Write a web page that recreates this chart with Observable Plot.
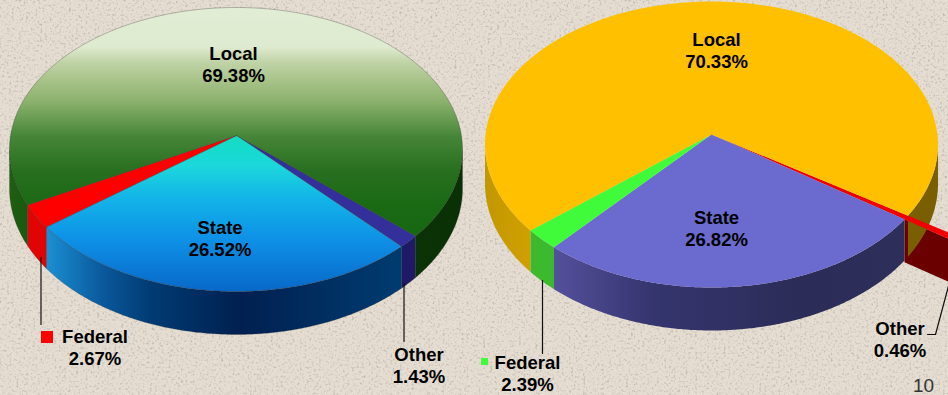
<!DOCTYPE html>
<html>
<head>
<meta charset="utf-8">
<style>
  html, body { margin: 0; padding: 0; background: #e3dbcf; overflow: hidden; }
</style>
<script src="https://cdn.jsdelivr.net/npm/d3@7"></script>
<script src="https://cdn.jsdelivr.net/npm/@observablehq/plot@0.6"></script>
</head>
<body>
<div id="chart"></div>
<script>
// Slices run clockwise from the start angle of each pie.
const categories = ["Other", "State", "Federal", "Local"];
const leftShares = [1.43, 26.52, 2.67, 69.38];
const rightShares = [0.46, 26.82, 2.39, 70.33];
const pageNumber = "10";

const width = 948, height = 395;

// Tilted-disc geometry: an ellipse, the projected centre of the disc (ax, ay),
// and the thickness of the rim.
const leftPie = {
  id: "l", shares: leftShares, start: 41.85, cx: 235.5, cy: 149, rx: 226.5, ry: 142,
  ax: 236, ay: 135, depth: 43, stroke: "#2a2a2a", reach: {}
};
const rightPie = {
  id: "r", shares: rightShares, start: 33.2, cx: 711, cy: 144, rx: 226.5, ry: 143,
  ax: 711, ay: 134, depth: 43, stroke: "none", reach: {Other: 1.35}
};

const topFill = {
  l: {Local: "url(#lLocalTop)", State: "url(#lStateTop)", Federal: "#ff0000", Other: "#33309c"},
  r: {Local: "#ffc000", State: "#6b6bcf", Federal: "#40fb3a", Other: "#f00000"}
};
const wallFill = {
  l: {Local: "url(#lLocalWall)", State: "url(#lStateWall)", Federal: "#e00404", Other: "#1f1a66"},
  r: {Local: "url(#rLocalWall)", State: "url(#rStateWall)", Federal: "#3cb92f", Other: "#6a0000"}
};

// Where the ray at a given angle leaves the ellipse, measured from the disc centre.
function rimPoint(p, deg, reach = 1) {
  const t = deg * Math.PI / 180, dx = Math.cos(t), dy = Math.sin(t);
  const a = (p.ax - p.cx) / p.rx, b = (p.ay - p.cy) / p.ry;
  const h = a * dx + b * dy;
  const s = -h + Math.sqrt(h * h - (a * a + b * b - 1));
  return {
    x: p.ax + s * reach * dx * p.rx,
    y: p.ay + s * reach * dy * p.ry,
    lift: Math.max(0, b + s * dy)
  };
}

const lower = (q, p) => ({x: q.x, y: q.y + p.depth * (0.91 + 0.09 * Math.min(1, q.lift))});

function buildPie(p) {
  let angle = p.start;
  const tops = [], walls = [];
  categories.forEach((name, i) => {
    const span = p.shares[i] * 3.6;
    const reach = p.reach[name] ?? 1;
    const arc = d3.range(0, Math.ceil(span / 0.5) + 1)
      .map(k => rimPoint(p, Math.min(angle + k * 0.5, angle + span), reach));
    tops.push({name, points: [{x: p.ax, y: p.ay}, ...arc, {x: p.ax, y: p.ay}]});

    if (reach > 1) {
      // A slice pushed past the rim shows its cut face instead of a curved wall.
      const inner = rimPoint(p, angle + span), outer = rimPoint(p, angle + span, reach);
      const drop = {...inner, lift: 1}, dropOut = {...outer, lift: 1};
      walls.push({name, points: [inner, outer, lower(dropOut, p), lower(drop, p), inner]});
    } else {
      let run = [];
      const flush = () => {
        if (run.length > 1) walls.push({name, points: [...run, ...run.slice().reverse().map(q => lower(q, p)), run[0]]});
        run = [];
      };
      arc.forEach(q => { if (q.y >= p.cy) run.push(q); else flush(); });
      flush();
    }
    angle += span;
  });
  return {tops, walls};
}

// One text row per printed slice label.
const labelSpots = [
  {pie: leftPie, name: "Local", x: 233, y: 63},
  {pie: leftPie, name: "State", x: 219.5, y: 237.5},
  {pie: leftPie, name: "Federal", x: 94.5, y: 346},
  {pie: leftPie, name: "Other", x: 418.5, y: 364},
  {pie: rightPie, name: "Local", x: 716, y: 49},
  {pie: rightPie, name: "State", x: 716, y: 227.5},
  {pie: rightPie, name: "Federal", x: 527, y: 372.5},
  {pie: rightPie, name: "Other", x: 899.5, y: 338.5}
];
const labels = labelSpots.map(d => ({
  x: d.x, y: d.y,
  text: `${d.name}\n${d.pie.shares[categories.indexOf(d.name)].toFixed(2)}%`
}));

const leaders = [
  [{x: 40.5, y: 257}, {x: 40.5, y: 324}],
  [{x: 403.5, y: 283}, {x: 403.5, y: 341}],
  [{x: 542, y: 280}, {x: 542, y: 353}],
  [{x: 950, y: 278}, {x: 935, y: 334}, {x: 927, y: 334}]
];
const swatches = [
  {x1: 41, x2: 53, y1: 331, y2: 343, fill: "#ff0000"},
  {x1: 481, x2: 488, y1: 358, y2: 365, fill: "#40fb3a"}
];

// Paint servers and the paper texture behind the chart.
function paper() {
  const g = d3.create("svg:g");
  const defs = g.append("defs");
  const gradient = (id, vertical, from, to, stops) => {
    const lg = defs.append("linearGradient").attr("id", id).attr("gradientUnits", "userSpaceOnUse")
      .attr("x1", vertical ? 0 : from).attr("x2", vertical ? 0 : to)
      .attr("y1", vertical ? from : 0).attr("y2", vertical ? to : 0);
    stops.forEach(([at, color]) => lg.append("stop").attr("offset", (at - from) / (to - from)).attr("stop-color", color));
  };
  gradient("lLocalTop", true, 7, 240, [[7, "#e1edd4"], [46, "#dfebd0"], [62, "#c0d3a6"], [82, "#a5c186"], [102, "#8ab06c"], [120, "#659a50"], [136, "#468539"], [170, "#286f1f"], [205, "#1a6a14"], [240, "#176613"]]);
  gradient("lStateTop", true, 135, 291, [[135, "#12dcc0"], [165, "#1cd8dc"], [200, "#12b2e8"], [240, "#0e90e6"], [291, "#0868c8"]]);
  gradient("lStateWall", false, 46, 402, [[46, "#1a90d2"], [100, "#0b5a9e"], [150, "#013b73"], [240, "#002050"], [300, "#012a5c"], [402, "#003c70"]]);
  gradient("lLocalWall", false, 9, 462, [[9, "#1f5f12"], [35, "#17560e"], [415, "#0b3306"], [462, "#0a3005"]]);
  gradient("rLocalWall", false, 485, 938, [[485, "#c29800"], [530, "#d0a000"], [900, "#7a5e02"], [938, "#7a5e02"]]);
  gradient("rStateWall", false, 553, 904, [[553, "#55509c"], [650, "#35356f"], [800, "#2c2c58"], [904, "#2e2e5a"]]);

  const speck = defs.append("filter").attr("id", "speck")
    .attr("x", 0).attr("y", 0).attr("width", "100%").attr("height", "100%");
  speck.append("feTurbulence").attr("type", "fractalNoise").attr("baseFrequency", 0.42).attr("numOctaves", 2).attr("seed", 7);
  speck.append("feColorMatrix").attr("values", "0 0 0 0 0.45  0 0 0 0 0.40  0 0 0 0 0.34  2 2 0 0 -2.02");
  speck.append("feGaussianBlur").attr("stdDeviation", 0.5);

  g.append("rect").attr("width", width).attr("height", height).attr("fill", "#e5ddd2");
  g.append("rect").attr("width", width).attr("height", height).attr("filter", "url(#speck)").attr("opacity", 0.7);
  return g.node();
}

const sliceMarks = [leftPie, rightPie].flatMap(p => {
  const {tops, walls} = buildPie(p);
  return [
    ...walls.map(w => Plot.line(w.points, {
      x: "x", y: "y", curve: "linear", clip: true,
      fill: wallFill[p.id][w.name], stroke: p.stroke, strokeWidth: 0.4, strokeOpacity: 0.6
    })),
    ...tops.map(t => Plot.line(t.points, {
      x: "x", y: "y", curve: "linear", clip: true,
      fill: topFill[p.id][t.name], stroke: p.stroke, strokeWidth: 0.5, strokeOpacity: 0.6
    }))
  ];
});

const chart = Plot.plot({
  width, height,
  margin: 0,
  style: {background: "transparent", fontFamily: "'Liberation Sans', Arial, sans-serif"},
  x: {domain: [0, width], range: [0, width], axis: null},
  y: {domain: [0, height], range: [0, height], axis: null},
  marks: [
    paper,
    ...sliceMarks,
    ...leaders.map(l => Plot.line(l, {x: "x", y: "y", curve: "linear", clip: true, stroke: "#111", strokeWidth: 1.2})),
    Plot.rect(swatches, {x1: "x1", x2: "x2", y1: "y1", y2: "y2", fill: d => d.fill}),
    Plot.text(labels, {
      x: "x", y: "y", text: "text", fontSize: 18.5, fontWeight: "bold", fill: "#000",
      lineHeight: 1.19, lineAnchor: "middle", textAnchor: "middle"
    }),
    Plot.text([pageNumber], {
      x: () => 923, y: () => 385, text: d => d, fontSize: 19, fill: "#333",
      lineAnchor: "middle", textAnchor: "middle"
    })
  ]
});
document.getElementById("chart").append(chart);
</script>
</body>
</html>
